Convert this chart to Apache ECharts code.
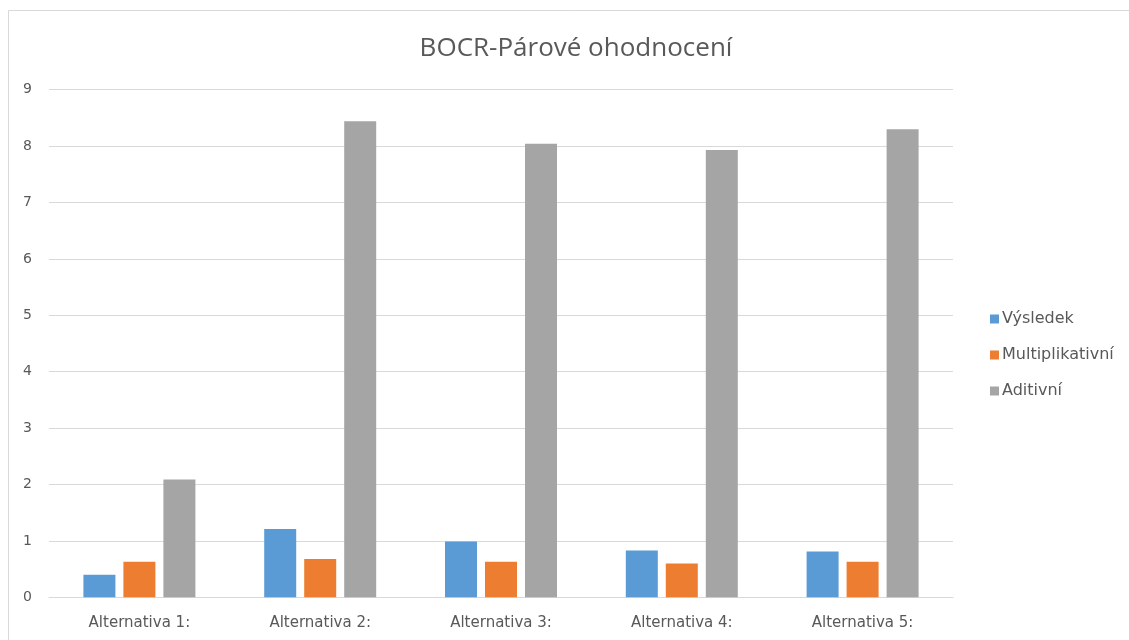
<!DOCTYPE html>
<html>
<head>
<meta charset="utf-8">
<script src="https://cdn.jsdelivr.net/npm/echarts@6/dist/echarts.min.js"></script>
<style>
  html, body { margin: 0; padding: 0; background: #fff; }
  #chart { width: 1129px; height: 640px; }
</style>
</head>
<body>
<div id="chart"></div>
<script>
// Categories and series values
const categories = ['Alternativa 1:', 'Alternativa 2:', 'Alternativa 3:', 'Alternativa 4:', 'Alternativa 5:'];
const vysledek = [0.40, 1.21, 0.99, 0.83, 0.81];
const multiplikativni = [0.63, 0.68, 0.63, 0.60, 0.63];
const aditivni = [2.09, 8.44, 8.04, 7.93, 8.30];
const seriesNames = ['Výsledek', 'Multiplikativní', 'Aditivní'];
const colors = ['#5B9BD5', '#ED7D31', '#A5A5A5'];

const chart = echarts.init(document.getElementById('chart'));
const textColor = '#595959';
const titleFont = 'Open Sans, Liberation Sans, sans-serif';
const labelFont = 'DejaVu Sans, sans-serif';

function bar(name, data, color) {
  return {
    name: name,
    type: 'bar',
    data: data,
    barWidth: 32,
    barGap: '25%',
    itemStyle: { color: color },
    emphasis: { disabled: true }
  };
}

chart.setOption({
  animation: false,
  color: colors,
  title: {
    text: 'BOCR-Párové ohodnocení',
    left: 571,
    textAlign: 'center',
    top: 31,
    textStyle: { color: textColor, fontFamily: titleFont, fontSize: 26, fontWeight: 'normal' }
  },
  graphic: [{
    type: 'rect',
    shape: { x: 8.5, y: 10.5, width: 1130, height: 640 },
    style: { fill: 'none', stroke: '#d9d9d9', lineWidth: 1 },
    silent: true
  }],
  legend: {
    orient: 'vertical',
    left: 985,
    top: 306,
    itemWidth: 9,
    itemHeight: 9,
    itemGap: 20,
    icon: 'rect',
    data: seriesNames,
    textStyle: { color: textColor, fontFamily: labelFont, fontSize: 16, lineHeight: 16, padding: [0, 0, 0, -2] }
  },
  grid: { left: 49, right: 176, top: 89.7, bottom: 42.7, containLabel: false },
  xAxis: {
    type: 'category',
    data: categories,
    axisTick: { show: false },
    axisLine: { lineStyle: { color: '#d9d9d9', width: 1 } },
    axisLabel: { color: textColor, fontFamily: labelFont, fontSize: 15, margin: 18 }
  },
  yAxis: {
    type: 'value',
    min: 0,
    max: 9,
    interval: 1,
    axisLine: { show: false },
    axisTick: { show: false },
    splitLine: { lineStyle: { color: '#d9d9d9', width: 1 } },
    axisLabel: { color: textColor, fontFamily: labelFont, fontSize: 14, margin: 17 }
  },
  series: [
    bar(seriesNames[0], vysledek, colors[0]),
    bar(seriesNames[1], multiplikativni, colors[1]),
    bar(seriesNames[2], aditivni, colors[2])
  ]
});
</script>
</body>
</html>
